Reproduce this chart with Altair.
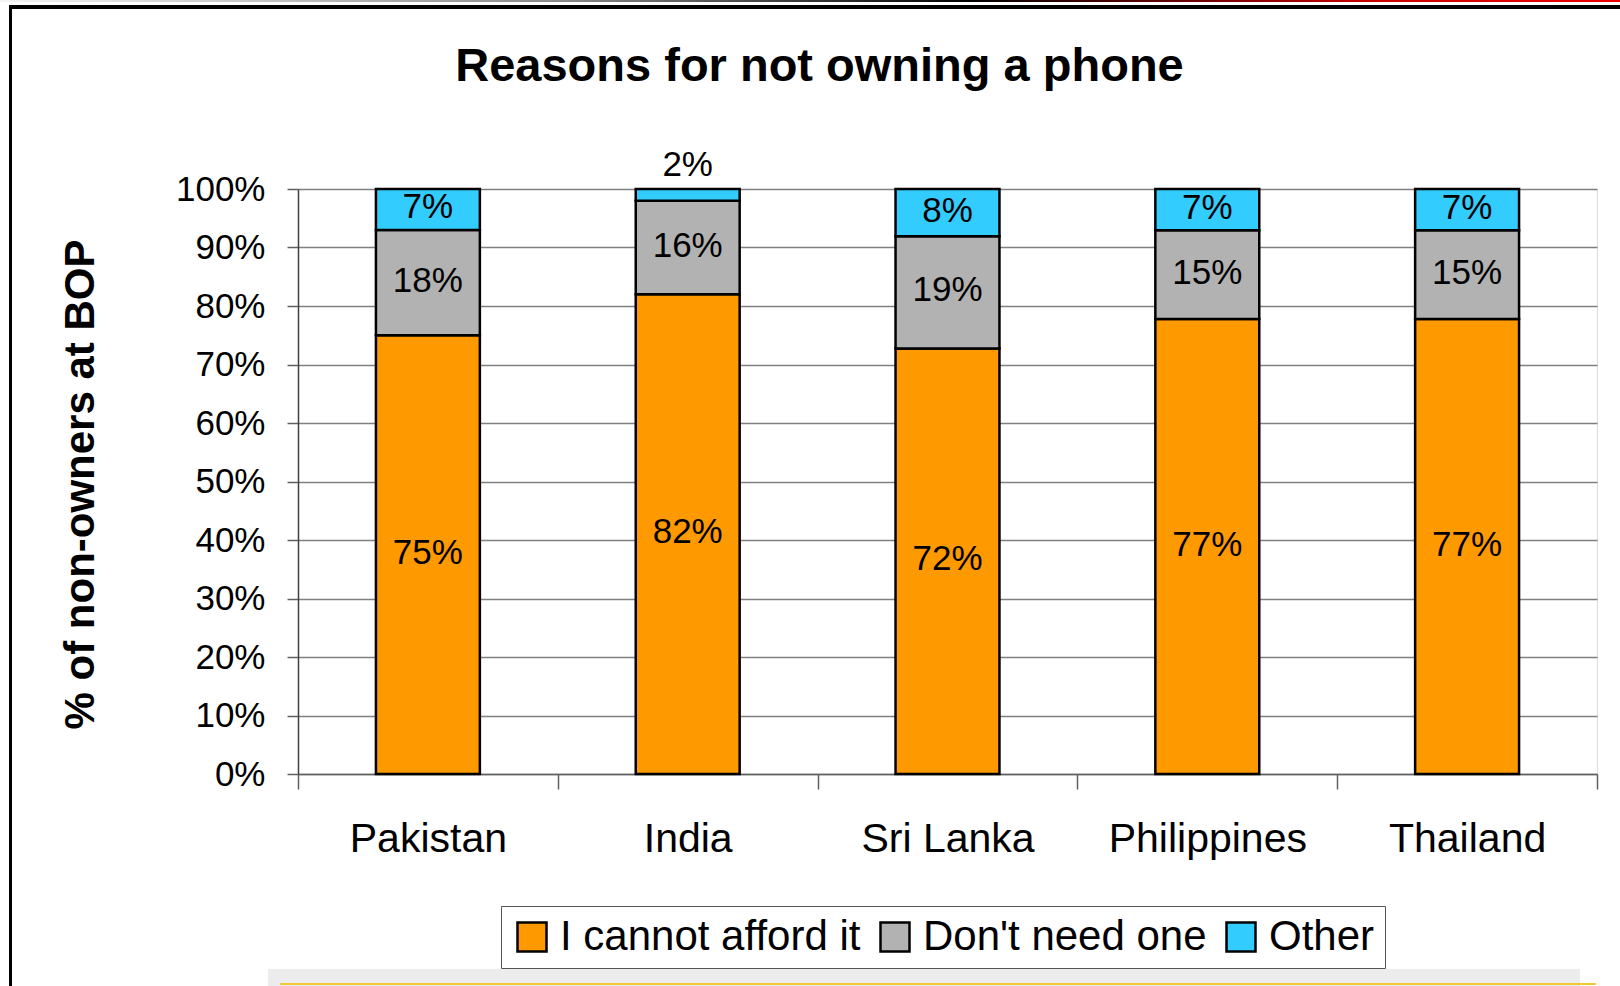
import altair as alt
import pandas as pd

countries = ["Pakistan", "India", "Sri Lanka", "Philippines", "Thailand"]
cannot_afford = [75, 82, 72, 77, 77]
dont_need = [18, 16, 19, 15, 15]
other = [7, 2, 8, 7, 7]
reasons = ["I cannot afford it", "Don't need one", "Other"]
colors = ["#FF9900", "#B2B2B2", "#33CCFF"]
y_ticks = [0.0, 0.1, 0.2, 0.3, 0.4, 0.5, 0.6, 0.7, 0.8, 0.9, 1.0]

rows = []
for i, c in enumerate(countries):
    vals = [cannot_afford[i], dont_need[i], other[i]]
    total = float(sum(vals))
    cum = 0.0
    for k, (r, v) in enumerate(zip(reasons, vals)):
        y0 = cum / total
        cum += v
        y1 = cum / total
        rows.append(dict(country=c, reason=r, value=v, y0=y0, y1=y1,
                         mid=(y0 + y1) / 2, label=f"{v}%", small=bool(v < 4)))
df = pd.DataFrame(rows)

FONT = "Liberation Sans"
W, H = 1299, 585
OX, OY = 298, 189

x_enc = alt.X("country:N", sort=countries,
              scale=alt.Scale(paddingInner=0, paddingOuter=0),
              axis=alt.Axis(title=None, labelAngle=0, labelFontSize=41, labelFont=FONT,
                            labelColor="black", tickBand="extent", tickSize=15,
                            tickColor="#606060", domainColor="#606060", tickWidth=1.5,
                            domainWidth=1.5, labelPadding=30, labelBaseline="top",
                            labelLimit=400, grid=False))

bars = alt.Chart(df).mark_bar(width=alt.RelativeBandSize(0.4), stroke="black", strokeWidth=2.5).encode(
    x=x_enc,
    y=alt.Y("y0:Q", scale=alt.Scale(domain=[0, 1], nice=False),
            axis=alt.Axis(values=y_ticks, format=".0%", title="% of non-owners at BOP",
                          titleFontSize=42, titleFont=FONT, titleFontWeight="bold",
                          titleColor="black", titleAngle=270, titleX=-218, titleY=295,
                          titleBaseline="middle", titleAlign="center",
                          labelFontSize=35, labelFont=FONT, labelColor="black",
                          labelPadding=22, tickSize=11, tickColor="#606060",
                          domainColor="#404040", domainWidth=1.5, tickWidth=1.5,
                          gridColor="#808080", gridWidth=1.3)),
    y2="y1:Q",
    color=alt.Color("reason:N", sort=reasons,
                    scale=alt.Scale(domain=reasons, range=colors),
                    legend=alt.Legend(title=None, orient="none", direction="horizontal",
                                      legendX=203, legendY=717, labelFontSize=42,
                                      labelFont=FONT, labelColor="black",
                                      symbolType="square", symbolSize=841,
                                      symbolStrokeColor="black", symbolStrokeWidth=2.5,
                                      symbolOpacity=1, labelLimit=600,
                                      columnPadding=13, labelOffset=7,
                                      strokeColor="#555555", fillColor="white",
                                      padding=10)),
)

labels = alt.Chart(df).transform_filter("!datum.small").mark_text(
    fontSize=35, font=FONT, color="black", baseline="middle", dy=-2).encode(
    x=alt.X("country:N", sort=countries), y=alt.Y("mid:Q"), text="label:N")

small_labels = alt.Chart(df).transform_filter("datum.small").mark_text(
    fontSize=35, font=FONT, color="black", baseline="middle", dy=-24).encode(
    x=alt.X("country:N", sort=countries), y=alt.Y("y1:Q"), text="label:N")

one = pd.DataFrame({"a": [0]})
grad = alt.LinearGradient(gradient="linear", x1=0, x2=1, y1=0, y2=0, stops=[
    alt.GradientStop(color="#f4f4f4", offset=0),
    alt.GradientStop(color="#888888", offset=0.35),
    alt.GradientStop(color="#000000", offset=0.6),
    alt.GradientStop(color="#cc0000", offset=0.85),
    alt.GradientStop(color="#ee0000", offset=1)])
top_grad = alt.Chart(one).mark_rect(fill=grad).encode(
    x=alt.value(-OX), x2=alt.value(1620 - OX), y=alt.value(-OY), y2=alt.value(2 - OY))
frame_top = alt.Chart(one).mark_rect(color="black").encode(
    x=alt.value(9 - OX), x2=alt.value(1620 - OX), y=alt.value(5 - OY), y2=alt.value(9 - OY))
frame_left = alt.Chart(one).mark_rect(color="black").encode(
    x=alt.value(9 - OX), x2=alt.value(12 - OX), y=alt.value(5 - OY), y2=alt.value(986 - OY))
strip = alt.Chart(one).mark_rect(color="#ececec").encode(
    x=alt.value(268 - OX), x2=alt.value(1580 - OX), y=alt.value(969 - OY), y2=alt.value(986 - OY))
yellow = alt.Chart(one).mark_rect(color="#f2c830").encode(
    x=alt.value(280 - OX), x2=alt.value(1596 - OX), y=alt.value(983 - OY), y2=alt.value(985 - OY))

chart = alt.layer(strip, yellow, bars, labels, small_labels, top_grad, frame_top, frame_left).properties(
    width=W, height=H,
    title=alt.TitleParams("Reasons for not owning a phone", fontSize=47, font=FONT,
                          fontWeight="bold", color="black", anchor="middle",
                          dx=-128, offset=-128, baseline="alphabetic"),
    autosize=alt.AutoSizeParams(type="none"),
    padding={"left": OX, "top": OY, "right": 1620 - OX - W, "bottom": 986 - OY - H},
).configure_view(stroke="#808080", strokeWidth=1.5).configure(background="white")

chart.save("out.html", embed_options={"renderer": "svg", "actions": False})
